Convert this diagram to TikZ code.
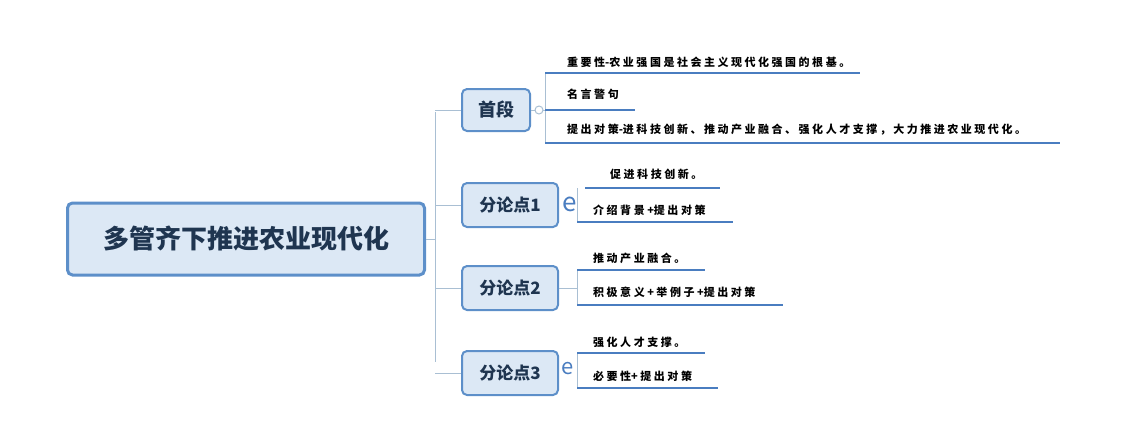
\documentclass[tikz,border=0pt]{standalone}
\usepackage{fontspec}
\setmainfont{Noto Sans CJK SC}
\usetikzlibrary{positioning}
\definecolor{boxfill}{HTML}{DCE8F5}
\definecolor{boxline}{HTML}{5D8FC9}
\definecolor{leafline}{HTML}{4A7DC0}
\definecolor{stem}{HTML}{A9BFD3}
\definecolor{ink}{HTML}{1F3550}
\begin{document}
\begin{tikzpicture}[x=1pt,y=-1pt,
  topic/.style={draw=boxline,fill=boxfill,rounded corners=5pt,line width=2pt,text=ink},
  leaf/.style={anchor=west,font=\fontsize{11}{13}\selectfont\bfseries,inner sep=0pt},
  uline/.style={leafline,line width=2.4pt},
  stemline/.style={stem,line width=1pt}]
  \useasboundingbox (0,0) rectangle (1128,426);

  \node (root) [topic,minimum width=357pt,minimum height=72pt,line width=3pt,
    font=\fontsize{26}{30}\selectfont\bfseries] at (246,239) {多管齐下推进农业现代化};
  \node (p0) [topic,minimum width=68pt,minimum height=42pt,font=\fontsize{18}{20}\selectfont\bfseries] at (496,110) {首段};
  \node (p1) [topic,minimum width=96pt,minimum height=44pt,font=\fontsize{17}{20}\selectfont\bfseries] at (510,205) {分论点1};
  \node (p2) [topic,minimum width=96pt,minimum height=44pt,font=\fontsize{17}{20}\selectfont\bfseries] at (510,288) {分论点2};
  \node (p3) [topic,minimum width=96pt,minimum height=44pt,font=\fontsize{17}{20}\selectfont\bfseries] at (510,373) {分论点3};

  % trunk
  \coordinate (t0) at (435,112);
  \coordinate (t3) at (435,362);
  \draw[stemline] (root.east) -- (root.east -| t0);
  \draw[stemline] (t0) -- (t3);
  \foreach \p in {p0,p1,p2,p3}
    \draw[stemline] (\p.west -| t0) -- (\p.west);

  % 首段
  \node (a1) [leaf] at (567,62) {重 要 性-农 业 强 国 是 社 会 主 义 现 代 化 强 国 的 根 基 。};
  \node (a2) [leaf] at (567,94) {名 言 警 句};
  \node (a3) [leaf] at (567,130) {提 出 对 策-进 科 技 创 新 、 推 动 产 业 融 合 、 强 化 人 才 支 撑 ， 大 力 推 进 农 业 现 代 化 。};
  \coordinate (b0) at (545,73);
  \draw[stemline] (p0.east) -- (545,110);
  \draw[stemline] (b0) -- (545,143);
  \draw[stemline,fill=white] (539,110) circle (4pt);
  \draw[uline] (b0) -- (860,73);
  \draw[uline] (545,110) -- (635,110);
  \draw[uline] (545,143) -- (1060,143);

  % 分论点1
  \node (e1) [text=leafline,font=\fontsize{26}{26}\selectfont] at (570,204) {e};
  \node (c1) [leaf] at (610,174) {促 进 科 技 创 新 。};
  \node (c2) [leaf] at (593,210) {介 绍 背 景 +提 出 对 策};
  \draw[stemline] (577,188) -- (577,222);
  \draw[uline] (585,188) -- (720,188);
  \draw[uline] (577,222) -- (733,222);

  % 分论点2
  \node (d1) [leaf] at (593,258) {推 动 产 业 融 合 。};
  \node (d2) [leaf] at (593,292) {积 极 意 义 + 举 例 子 +提 出 对 策};
  \draw[stemline] (p2.east) -- (577,288);
  \draw[stemline] (577,270) -- (577,305);
  \draw[uline] (577,270) -- (705,270);
  \draw[uline] (577,305) -- (783,305);

  % 分论点3
  \node (e3) [text=leafline,font=\fontsize{22}{22}\selectfont] at (568,369) {e};
  \node (f1) [leaf] at (593,342) {强 化 人 才 支 撑 。};
  \node (f2) [leaf] at (593,376) {必 要 性+ 提 出 对 策};
  \draw[stemline] (577,353) -- (577,388);
  \draw[uline] (577,353) -- (705,353);
  \draw[uline] (577,388) -- (718,388);
\end{tikzpicture}
\end{document}
